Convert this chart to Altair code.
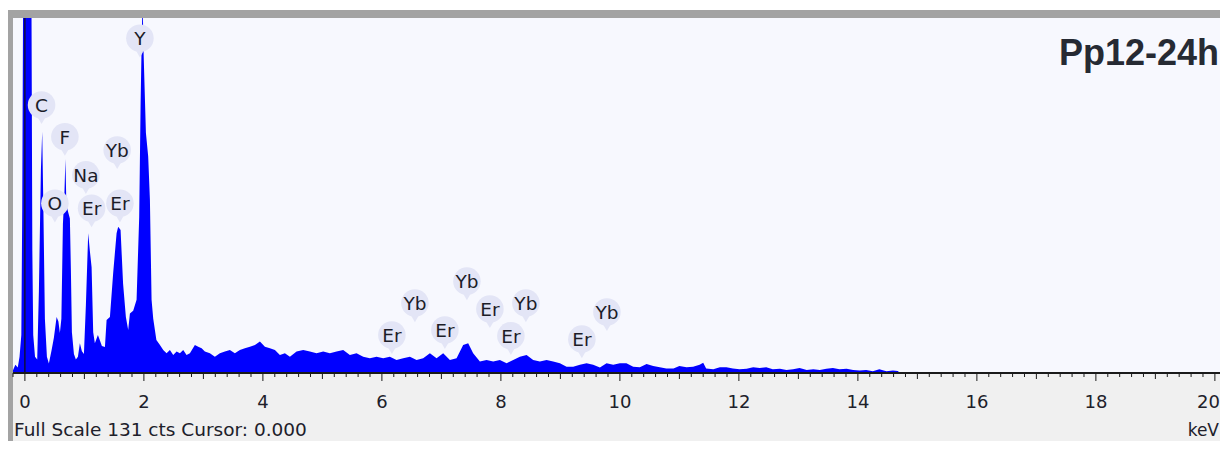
import altair as alt
import pandas as pd

# ---- spectrum (keV, counts) ----
energy_kev = [
    -0.2, -0.16, -0.12, -0.09, -0.06, -0.045, -0.03, 0.11, 0.125, 0.14, 0.17,
    0.207, 0.235, 0.269, 0.291, 0.311, 0.336, 0.37, 0.403, 0.449, 0.487, 0.533,
    0.563, 0.588, 0.613, 0.639, 0.664, 0.681, 0.697, 0.731, 0.756, 0.773, 0.79,
    0.824, 0.857, 0.891, 0.924, 0.958, 0.992, 1.025, 1.064, 1.092, 1.121, 1.148,
    1.176, 1.227, 1.261, 1.294, 1.345, 1.373, 1.429, 1.484, 1.541, 1.568, 1.608,
    1.65, 1.697, 1.736, 1.765, 1.82, 1.877, 1.921, 1.945, 1.965, 1.978, 1.995,
    2.034, 2.072, 2.101, 2.129, 2.157, 2.21, 2.27,
    2.325, 2.381, 2.437, 2.493, 2.55, 2.605, 2.661, 2.717, 2.773, 2.857, 2.913,
    2.97, 3.025, 3.109, 3.193, 3.277, 3.361, 3.445, 3.529, 3.613, 3.697, 3.782,
    3.866, 3.95, 4.034, 4.118, 4.202, 4.286, 4.37, 4.454, 4.566, 4.678, 4.79,
    4.902, 5.014, 5.126, 5.238, 5.35, 5.462, 5.574, 5.686, 5.798, 5.91, 6.022,
    6.134, 6.246, 6.358, 6.471, 6.583, 6.694, 6.807, 6.919, 7.03, 7.143, 7.255,
    7.366, 7.45, 7.534, 7.647, 7.759, 7.871, 7.983, 8.096, 8.207, 8.319, 8.432,
    8.543, 8.655, 8.768, 8.879, 8.992, 9.104, 9.215, 9.328, 9.44, 9.551, 9.664,
    9.776, 9.888, 10.0, 10.11, 10.224, 10.336, 10.448, 10.56, 10.67, 10.78,
    10.9, 11.0, 11.12, 11.23, 11.34, 11.4, 11.45, 11.57, 11.68, 11.79, 11.9,
    12.01, 12.13, 12.24, 12.35, 12.46, 12.57, 12.69, 12.8, 12.91, 13.02, 13.14,
    13.25, 13.36, 13.47, 13.58, 13.69, 13.81, 13.92, 14.03, 14.14, 14.25, 14.36,
    14.48, 14.59, 14.67, 14.71, 20.1,
]
counts = [
    1, 3, 2, 6, 14, 60, 140, 140, 45, 14, 6,
    5, 30, 75, 89, 60, 20, 6, 3.5, 8.5, 13, 20.7,
    19, 14.8, 20, 55, 66, 79, 62, 59, 57, 38, 15,
    7, 5, 6, 11, 8, 7, 25, 51.6, 45, 39, 15,
    11, 14, 12, 10, 9.6, 19.6, 20.7, 37, 51.6, 54, 52.8,
    33, 20.7, 15.9, 22, 23, 27, 57.6, 100, 125, 138, 118,
    88.6, 80, 64, 27, 20, 12.2, 10.3,
    8.5, 7.3, 8.5, 6.6, 7.9, 7.3, 8.5, 6.6, 7.3, 10.3, 9.7,
    9.1, 7.9, 7.3, 6.0, 7.3, 7.9, 8.5, 7.3, 8.5, 9.1, 9.7,
    10.3, 11.6, 9.7, 9.1, 8.5, 6.6, 7.3, 6.0, 7.9, 8.5, 7.9,
    7.3, 7.9, 7.3, 7.9, 8.5, 6.6, 7.3, 6.0, 5.4, 6.0, 5.4,
    6.0, 4.8, 5.4, 6.0, 4.8, 5.4, 7.3, 5.4, 7.3, 4.8, 5.4,
    10.3, 11.0, 7.3, 4.2, 4.8, 4.2, 4.8, 3.6, 4.8, 6.0, 6.6,
    4.8, 4.2, 4.8, 4.2, 3.6, 2.3, 2.3, 3.0, 3.6, 3.0, 2.0,
    3.6, 3.0, 3.6, 3.6, 2.3, 2.1, 3.3, 2.6, 2.1, 1.7,
    1.7, 2.6, 2.1, 2.3, 3.0, 3.8, 1.7, 1.4, 2.1, 2.1, 1.7,
    1.4, 1.6, 2.1, 1.8, 2.1, 1.4, 1.6, 1.1, 1.4, 1.8, 1.1,
    1.4, 1.1, 1.6, 1.8, 1.4, 1.6, 1.1, 0.9, 1.1, 0.6, 1.4,
    0.6, 0.9, 0.7, 0, 0,
]

# ---- element labels ----
label_text = ["C", "F", "Na", "O", "Er", "Yb", "Er", "Y",
              "Er", "Yb", "Er", "Yb", "Er", "Yb", "Er", "Er", "Yb"]
label_kev = [0.28, 0.672, 1.025, 0.504, 1.121, 1.551, 1.597, 1.933,
             6.168, 6.555, 7.059, 7.429, 7.815, 8.42, 8.168, 9.361, 9.782]
label_cts = [98.9, 87.2, 73.1, 62.6, 60.8, 82.3, 62.6, 123.5,
             14.0, 25.8, 15.9, 33.9, 23.6, 25.8, 13.7, 12.5, 22.5]

# ---- axis ticks and labels ----
x_domain = [-0.2, 20.086]
y_domain = [0, 131]
major_ticks = [0, 2, 4, 6, 8, 10, 12, 14, 16, 18]
major_labels = ["0", "2", "4", "6", "8", "10", "12", "14", "16", "18"]
last_tick = [20]
last_label = ["20"]
mid_ticks = [1, 3, 5, 7, 9, 11, 13, 15, 17, 19]
minor_ticks = [round(i * 0.2 - 0.2, 1) for i in range(102) if (i - 1) % 5 != 0]

title_text = "Pp12-24h"
status_text = "Full Scale 131 cts Cursor: 0.000"
unit_text = "keV"
cursor_kev = [0.0]

W, H = 1207, 355
BOT = 68

spec = pd.DataFrame({"kev": energy_kev, "cts": counts})
labels = pd.DataFrame({"kev": label_kev, "cts": label_cts, "el": label_text})

xscale = alt.Scale(domain=x_domain, nice=False, zero=False)
yscale = alt.Scale(domain=y_domain, nice=False, zero=False)
X = lambda: alt.X("kev:Q", scale=xscale, axis=None)
Y = lambda: alt.Y("cts:Q", scale=yscale, axis=None)

one = alt.Data(values=[{}])

bottom_panel = alt.Chart(one).mark_rect(color="#f0f0f0").encode(
    x=alt.value(0), x2=alt.value(W), y=alt.value(H), y2=alt.value(H + BOT)
)
left_band = alt.Chart(one).mark_rect(color="#a3a3a3").encode(
    x=alt.value(-5), x2=alt.value(0), y=alt.value(-8), y2=alt.value(H + BOT)
)
top_band = alt.Chart(one).mark_rect(color="#a3a3a3").encode(
    x=alt.value(-5), x2=alt.value(W), y=alt.value(-8), y2=alt.value(0)
)

area = alt.Chart(spec).mark_area(color="#0000ff", clip=True, interpolate="linear").encode(
    x=X(), y=Y()
)

cursor = alt.Chart(pd.DataFrame({"kev": cursor_kev})).mark_rule(
    color="#101010", strokeWidth=1.2
).encode(x=X())

axis_line = alt.Chart(one).mark_rule(color="#1a1a1a", strokeWidth=2).encode(
    x=alt.value(0), x2=alt.value(W), y=alt.value(H)
)


def tick_layer(vals, length):
    return alt.Chart(pd.DataFrame({"kev": vals})).mark_rule(
        color="#1a1a1a", strokeWidth=1
    ).encode(x=X(), y=alt.value(H), y2=alt.value(H + length))


minor = tick_layer(minor_ticks, 4)
mid = tick_layer(mid_ticks, 6)
major = tick_layer(major_ticks + last_tick, 8)

tick_text = alt.Chart(pd.DataFrame({"kev": major_ticks, "lab": major_labels})).mark_text(
    font="DejaVu Sans", fontSize=18, color="#20202a", baseline="middle", align="center"
).encode(x=X(), y=alt.value(H + 30), text="lab:N")

last_text = alt.Chart(pd.DataFrame({"kev": last_tick, "lab": last_label})).mark_text(
    font="DejaVu Sans", fontSize=18, color="#20202a", baseline="middle", align="right", dx=5
).encode(x=X(), y=alt.value(H + 30), text="lab:N")

bubbles = alt.Chart(labels).mark_circle(size=760, color="#e3e5f6", opacity=1).encode(
    x=X(), y=Y()
)
stems = alt.Chart(labels).mark_point(
    shape="triangle-down", size=50, filled=True, color="#e3e5f6", opacity=1, yOffset=16
).encode(x=X(), y=Y())
texts = alt.Chart(labels).mark_text(
    font="DejaVu Sans", fontSize=18.5, color="#1c1c28", baseline="middle", dy=1
).encode(x=X(), y=Y(), text="el:N")

title = alt.Chart(one).mark_text(
    text=title_text, font="Liberation Sans", fontWeight="bold", fontSize=36,
    color="#262a33", align="right", baseline="alphabetic"
).encode(x=alt.value(W - 1), y=alt.value(47))

status = alt.Chart(one).mark_text(
    text=status_text, font="DejaVu Sans", fontSize=18.5, color="#20202a",
    align="left", baseline="alphabetic"
).encode(x=alt.value(1), y=alt.value(H + 63))

unit = alt.Chart(one).mark_text(
    text=unit_text, font="DejaVu Sans", fontSize=17, color="#20202a",
    align="right", baseline="alphabetic"
).encode(x=alt.value(W - 1), y=alt.value(H + 63))

chart = alt.layer(
    bottom_panel, left_band, top_band, area, cursor, axis_line, minor, mid, major,
    tick_text, last_text, stems, bubbles, texts, title, status, unit
).properties(
    width=W, height=H,
    padding={"left": 5, "top": 10, "right": 0, "bottom": BOT},
    autosize=alt.AutoSizeParams(type="none"),
    background="white",
).configure_view(stroke=None, fill="#f7f8fe")

chart.save("out.html", embed_options={"renderer": "svg", "actions": False})
